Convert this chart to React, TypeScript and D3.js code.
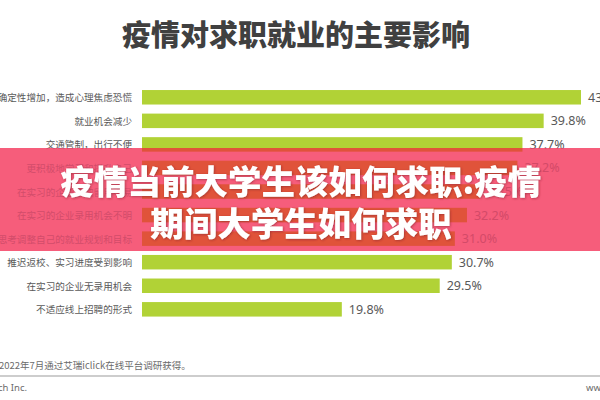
import React from "react";
import * as d3 from "d3";

const categories = [
  "不确定性增加，造成心理焦虑恐慌",
  "就业机会减少",
  "交通管制，出行不便",
  "更积极地学习和提升自己",
  "在实习的企业争取留用不易",
  "在实习的企业录用机会不明",
  "重新思考调整自己的就业规划和目标",
  "推迟返校、实习进度受到影响",
  "在实习的企业无录用机会",
  "不适应线上招聘的形式",
];
const values = [43.5, 39.8, 37.7, 37.2, 33.5, 32.2, 31.0, 30.7, 29.5, 19.8];
const title = "疫情对求职就业的主要影响";
const bannerLines = ["疫情当前大学生该如何求职:疫情", "期间大学生如何求职"];
const footnote = "2022年7月通过艾瑞iclick在线平台调研获得。";
const copyright = "Copyright © 2022 iResearch Inc.";
const website = "www.iresearch.com.cn";

const CJK = "'Noto Sans CJK SC', 'Noto Sans', sans-serif";
const LATIN = "'Noto Sans', 'Open Sans', sans-serif";

export default function App() {
  const W = 600;
  const H = 400;
  const x = d3.scaleLinear().domain([0, 43.5]).range([142, 581]);
  const y = d3
    .scaleBand<string>()
    .domain(categories)
    .range([85.5, 321.1])
    .paddingInner(0.385)
    .paddingOuter(0.1925);
  const bw = y.bandwidth();
  const bannerTop = 148;
  const bannerBottom = 251;

  const rows = (bar: string, lab: string, val: string, keyPrefix: string) =>
    categories.map((c, i) => {
      const yy = y(c) as number;
      return (
        <g key={keyPrefix + i}>
          <rect x={x(0)} y={yy} width={x(values[i]) - x(0)} height={bw} fill={bar} />
          <text
            x={132}
            y={yy + bw / 2}
            textAnchor="end"
            dominantBaseline="central"
            fontFamily={CJK}
            fontSize={9.6}
            fill={lab}
          >
            {c}
          </text>
          <text
            x={x(values[i]) + 7}
            y={yy + bw / 2}
            dominantBaseline="central"
            fontFamily={LATIN}
            fontSize={12.5}
            fill={val}
          >
            {values[i].toFixed(1) + "%"}
          </text>
        </g>
      );
    });

  return (
    <svg
      width={W}
      height={H}
      viewBox={`0 0 ${W} ${H}`}
      style={{ position: "absolute", left: 0, top: 0, background: "#ffffff" }}
    >
      <defs>
        <clipPath id="bannerClip">
          <rect x={0} y={bannerTop} width={W} height={bannerBottom - bannerTop} />
        </clipPath>
        <filter id="txtShadow" x="-10%" y="-30%" width="120%" height="160%">
          <feDropShadow dx="0.8" dy="0.8" stdDeviation="0.8" floodColor="#7a1a2a" floodOpacity="0.55" />
        </filter>
      </defs>
      <rect x={0} y={0} width={W} height={H} fill="#ffffff" />
      <text
        x={296}
        y={46}
        textAnchor="middle"
        fontFamily={CJK}
        fontWeight={900}
        fontSize={29}
        fill="#404040"
      >
        {title}
      </text>

      {rows("#b1d236", "#595959", "#595959", "a")}

      <rect x={0} y={bannerTop} width={W} height={bannerBottom - bannerTop} fill="#f65d7b" />
      <g clipPath="url(#bannerClip)">{rows("#e0533a", "#d24c6a", "#d34a68", "b")}</g>

      {bannerLines.map((t, i) => (
        <text
          key={t}
          x={301}
          y={179 + i * 42}
          textAnchor="middle"
          dominantBaseline="central"
          fontFamily={CJK}
          fontWeight={900}
          fontSize={33.5}
          fill="#ffffff"
          filter="url(#txtShadow)"
        >
          {t}
        </text>
      ))}

      <text x={-1} y={365} dominantBaseline="central" fontFamily={CJK} fontSize={9.5} fill="#6b6b6b">
        {footnote}
      </text>
      <line x1={0} x2={W} y1={376} y2={376} stroke="#bdbdbd" strokeWidth={1.6} />
      <text x={27} y={387} textAnchor="end" dominantBaseline="central" fontFamily={LATIN} fontSize={9.5} fill="#6b6b6b">
        {copyright}
      </text>
      <text x={586} y={387} dominantBaseline="central" fontFamily={LATIN} fontSize={9.5} fill="#6b6b6b">
        {website}
      </text>
    </svg>
  );
}
